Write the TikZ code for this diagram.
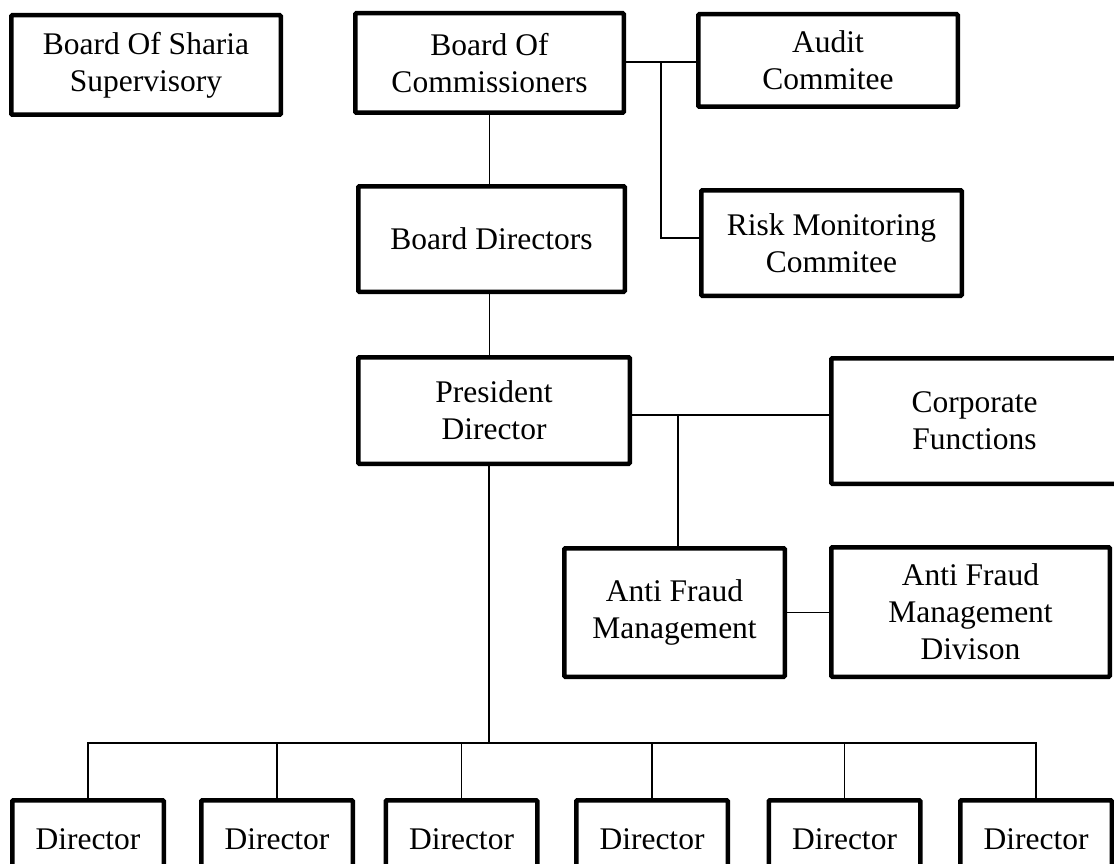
\documentclass[tikz,border=0pt]{standalone}
\usepackage{fontspec}
\setmainfont{Liberation Serif}
\tikzset{
  orgbox/.style={draw=black, line width=4.5pt, rounded corners=1pt, align=center, inner sep=0pt, font=\fontsize{31.5}{37}\selectfont},
  link/.style={draw=black, line width=1.8pt},
}
\begin{document}
\begin{tikzpicture}[x=1pt,y=-1pt]
\useasboundingbox (0,0) rectangle (1114,864);
\node[orgbox, minimum width=269.5pt, minimum height=99.5pt] (sharia) at (146,65) {Board Of Sharia\\Supervisory};
\node[orgbox, minimum width=268.5pt, minimum height=99.5pt] (comm) at (489.5,63) {Board Of\\Commissioners};
\node[orgbox, minimum width=259.5pt, minimum height=92.5pt] (audit) at (828,60.5) {Audit\\Commitee};
\node[orgbox, minimum width=266.5pt, minimum height=105.5pt] (bdir) at (491.5,239) {Board Directors};
\node[orgbox, minimum width=260.5pt, minimum height=105.5pt] (risk) at (831.5,243) {Risk Monitoring\\Commitee};
\node[orgbox, minimum width=271.5pt, minimum height=106.5pt] (pres) at (494,410.5) {President\\Director};
\node[orgbox, minimum width=286.5pt, minimum height=125.5pt] (corp) at (974.5,421) {Corporate\\Functions};
\node[orgbox, minimum width=220.5pt, minimum height=128.5pt] (afm) at (674.5,612.5) {Anti Fraud\\Management};
\node[orgbox, minimum width=278.5pt, minimum height=129.5pt] (afmd) at (970.5,612) {Anti Fraud\\Management\\Divison};
\foreach \x [count=\i] in {88,277,461.5,652,844.5,1036}
  \node[orgbox, minimum width=151.5pt, minimum height=77.5pt] (d\i) at (\x,839) {Director};
\coordinate (cbranch) at (661,62);
\coordinate (rjoin) at (661,238);
\coordinate (pbranch) at (678,415);
\coordinate (bus) at (489,743);
\draw[link] (comm.east |- cbranch) -- (cbranch -| audit.west);
\draw[link] (cbranch) -- (rjoin) -- (rjoin -| risk.west);
\draw[link] (comm.south) -- (comm.south |- bdir.north);
\draw[link] (bdir.south -| comm.south) -- (pres.north -| comm.south);
\draw[link] (pres.east |- pbranch) -- (pbranch -| corp.west);
\draw[link] (pbranch) -- (pbranch |- afm.north);
\draw[link] (afm.east) -- (afm.east -| afmd.west);
\draw[link] (pres.south -| bus) -- (bus);
\draw[link] (d1.north) |- (bus) -| (d6.north);
\foreach \i in {2,...,5} \draw[link] (bus -| d\i.north) -- (d\i.north);
\end{tikzpicture}
\end{document}
